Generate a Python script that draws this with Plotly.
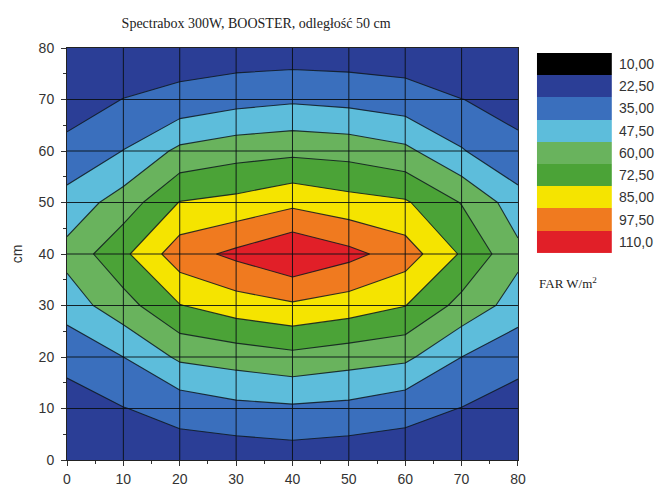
import plotly.graph_objects as go

# Grid positions (cm)
x_vals = [0, 10, 20, 30, 40, 50, 60, 70, 80]
y_vals = [0, 10, 20, 30, 40, 50, 60, 70, 80]

# FAR values (W/m2); one list per row (y = 0 ... 80), columns x = 0 ... 80
far_y0 = [13.0, 14.0, 16.0, 14.5, 16.0, 14.5, 16.0, 14.0, 13.0]
far_y10 = [18.6, 22.1, 26.7, 31.5, 33.0, 31.5, 26.4, 22.2, 18.5]
far_y20 = [25.2, 35.0, 49.8, 53.0, 56.5, 53.0, 50.3, 35.0, 25.5]
far_y30 = [41.0, 55.0, 72.0, 79.0, 83.2, 79.0, 72.8, 56.0, 42.0]
far_y40 = [51.3, 69.8, 92.1, 100.4, 109.0, 101.1, 91.3, 71.1, 50.5]
far_y50 = [40.1, 53.0, 73.0, 76.0, 82.0, 77.0, 74.0, 59.4, 40.8]
far_y60 = [25.1, 35.3, 50.4, 55.0, 57.0, 55.5, 50.5, 36.0, 23.8]
far_y70 = [18.1, 22.7, 25.9, 30.5, 33.0, 31.0, 27.5, 22.6, 20.6]
far_y80 = [13.0, 15.0, 16.0, 15.0, 15.0, 15.0, 15.5, 15.0, 13.0]

# Contour levels and legend
level_values = [10.0, 22.5, 35.0, 47.5, 60.0, 72.5, 85.0, 97.5, 110.0]
level_labels = ["10,00", "22,50", "35,00", "47,50", "60,00", "72,50", "85,00", "97,50", "110,0"]
band_colors = ["#000000", "#2b3e96", "#3a6fbd", "#5dbddb", "#69b35d", "#4ba337",
               "#f5e400", "#f07a1f", "#e11f28"]
above_color = "#a00010"

tick_vals = [0, 10, 20, 30, 40, 50, 60, 70, 80]

z = [far_y0, far_y10, far_y20, far_y30, far_y40, far_y50, far_y60, far_y70, far_y80]

step = level_values[1] - level_values[0]
fill_colors = band_colors + [above_color]
n = len(fill_colors) - 1
contour_scale = [[i / n, c] for i, c in enumerate(fill_colors)]

fig = go.Figure()

fig.add_trace(go.Contour(
    x=x_vals, y=y_vals, z=z,
    contours=dict(start=level_values[0], end=level_values[-1], size=step, coloring="fill"),
    colorscale=contour_scale,
    line=dict(color="rgba(15,25,30,0.85)", width=1.1, smoothing=0),
    showscale=False,
    hoverinfo="skip",
))

# Legend blocks (discrete colour key)
m = len(band_colors) - 1
legend_scale = [[i / m, c] for i, c in enumerate(band_colors)]
fig.add_trace(go.Heatmap(
    x=[0], y=level_labels,
    z=[[i] for i in range(len(level_labels))],
    zmin=0, zmax=m,
    colorscale=legend_scale,
    showscale=False,
    xaxis="x2", yaxis="y2",
    hoverinfo="skip",
))

# Grid lines drawn above the filled contours
shapes = []
for t in tick_vals[1:-1]:
    shapes.append(dict(type="line", xref="x", yref="y", x0=t, x1=t, y0=tick_vals[0], y1=tick_vals[-1],
                       line=dict(color="rgba(10,15,20,0.9)", width=1), layer="above"))
    shapes.append(dict(type="line", xref="x", yref="y", y0=t, y1=t, x0=tick_vals[0], x1=tick_vals[-1],
                       line=dict(color="rgba(10,15,20,0.9)", width=1), layer="above"))

tickfont = dict(family="Liberation Sans, Arial, sans-serif", size=14, color="#333333")

fig.update_layout(
    width=660, height=488,
    margin=dict(l=67, r=20, t=48, b=28),
    paper_bgcolor="white", plot_bgcolor="white",
    title=dict(text="Spectrabox 300W, BOOSTER, odległość 50 cm",
               font=dict(family="Liberation Serif, Times New Roman, serif", size=14, color="#222222"),
               x=0.388, xanchor="center", xref="container", y=0.953, yanchor="middle", yref="container"),
    xaxis=dict(domain=[0, 0.787], range=[0, 80], tickvals=tick_vals, ticks="outside", ticklen=5,
               tickcolor="#333", showline=True, mirror=True, linecolor="#222", linewidth=1,
               showgrid=False, zeroline=False, tickfont=tickfont, automargin=False,
               ticklabelstandoff=1,
               minor=dict(ticks="outside", ticklen=3, dtick=5, tickcolor="#333", showgrid=False)),
    yaxis=dict(domain=[0, 1], range=[0, 80], tickvals=tick_vals, ticks="outside", ticklen=5,
               tickcolor="#333", showline=True, mirror=True, linecolor="#222", linewidth=1,
               showgrid=False, zeroline=False, tickfont=tickfont, automargin=False,
               ticklabelstandoff=4,
               title=dict(text="cm", font=dict(family="Liberation Sans, Arial, sans-serif", size=14,
                                                color="#333333"), standoff=12),
               minor=dict(ticks="outside", ticklen=3, dtick=5, tickcolor="#333", showgrid=False)),
    xaxis2=dict(domain=[0.820, 0.951], anchor="y2", visible=False, fixedrange=True, automargin=False),
    yaxis2=dict(domain=[0.502, 0.988], anchor="x2", side="right", autorange="reversed",
                showgrid=False, zeroline=False, showline=False, ticks="", tickfont=tickfont,
                ticklabelstandoff=6, automargin=False),
    shapes=shapes,
    annotations=[dict(text="FAR W/m<sup>2</sup>", xref="paper", yref="paper",
                      x=0.820, y=(460 - 283) / 412, xanchor="left", yanchor="middle", showarrow=False,
                      font=dict(family="Liberation Serif, Times New Roman, serif", size=13,
                                color="#222222"))],
)

fig.write_html("out.html")
